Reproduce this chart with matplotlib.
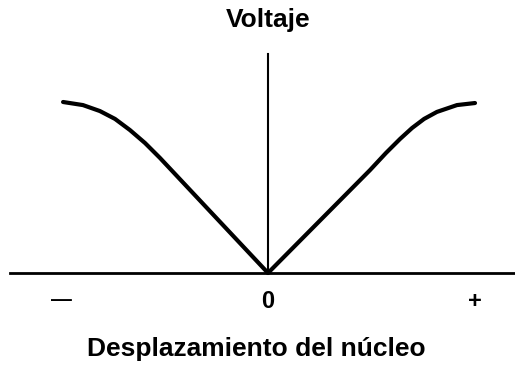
import matplotlib
matplotlib.use("Agg")
import matplotlib.pyplot as plt

# Data (displacement normalised to [-1, 1], voltage to [0, 1])
left_x = [-0.990, -0.894, -0.812, -0.739, -0.667, -0.594, -0.522, 0.0]
left_y = [1.000, 0.982, 0.947, 0.901, 0.836, 0.760, 0.673, 0.0]
right_x = [0.0, 0.493, 0.570, 0.638, 0.696, 0.754, 0.816, 0.913, 1.0]
right_y = [0.0, 0.602, 0.702, 0.784, 0.848, 0.901, 0.942, 0.982, 0.994]
tick_pos = [-1, 0, 1]
tick_labels = ["\u2014", "0", "+"]
title = "Voltaje"
xlabel = "Desplazamiento del núcleo"

W, H = 515, 366
fig = plt.figure(figsize=(W / 100, H / 100), dpi=100)
ax = fig.add_axes([0, 0, 1, 1])
fig.patch.set_facecolor("white")
ax.set_facecolor("white")

# pixel mapping: x0 px 268, 1 unit = 207 px; y0 px 273, 1 unit = 171 px
sx, x0 = 207.0, 268.0
sy, y0 = 171.0, 273.0
ax.set_xlim(-x0 / sx, (W - x0) / sx)
ax.set_ylim((y0 - H) / sy, y0 / sy)

ax.plot(left_x, left_y, color="black", lw=3.0, solid_capstyle="round", solid_joinstyle="round")
ax.plot(right_x, right_y, color="black", lw=3.0, solid_capstyle="round", solid_joinstyle="round")

for s in ["top", "right"]:
    ax.spines[s].set_visible(False)
ax.spines["left"].set_position(("data", 0))
ax.spines["bottom"].set_position(("data", 0))
ax.spines["left"].set_bounds(0, (y0 - 54) / sy)
ax.spines["bottom"].set_bounds((10 - x0) / sx, (W - x0) / sx)
ax.spines["left"].set_linewidth(1.5)
ax.spines["bottom"].set_linewidth(2.0)

ax.set_yticks([])
ax.set_xticks(tick_pos)
ax.set_xticklabels(tick_labels, fontfamily="Liberation Sans", fontweight="bold", fontsize=17)
ax.tick_params(axis="x", length=0, pad=12)
ax.get_xticklabels()[0].set_fontsize(15)

fig.text(x0 / W, 1 - 20 / H, title, ha="center", va="center",
         fontfamily="Liberation Sans", fontweight="bold", fontsize=19)
fig.text(x0 / W - 12 / W, 1 - 349 / H, xlabel, ha="center", va="center",
         fontfamily="Liberation Sans", fontweight="bold", fontsize=19)

fig.savefig("out.png", dpi=100, facecolor="white")
